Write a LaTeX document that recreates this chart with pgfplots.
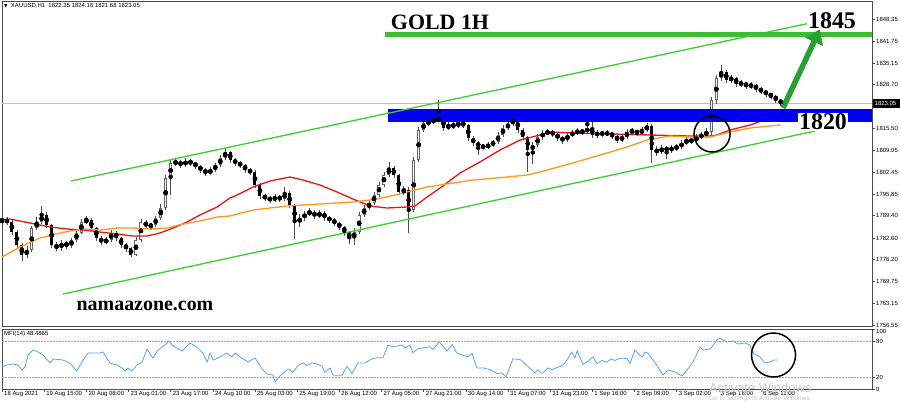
\documentclass[border=0pt]{standalone}
\usepackage{fontspec}
\setmainfont{Liberation Sans}
\newfontfamily\serifb{Liberation Serif}
\newfontfamily\dejavu{DejaVu Sans}
\usepackage{pgfplots}
\usepackage{pgfplotstable}
\pgfplotsset{compat=1.18}
\usetikzlibrary{arrows.meta}

\definecolor{chgreen}{RGB}{60,205,50}
\definecolor{lvlgreen}{RGB}{60,190,50}
\definecolor{arrgreen}{RGB}{40,160,50}
\definecolor{bandblue}{RGB}{0,0,245}
\definecolor{maorange}{RGB}{255,150,30}
\definecolor{mared}{RGB}{235,20,20}
\definecolor{mfiblue}{RGB}{90,165,240}

\pgfplotstableread{
x o h l c
0 1787.50 1789.20 1786.90 1788.05
2 1788.05 1789.00 1786.60 1787.45
4 1787.45 1788.00 1783.60 1784.45
6 1784.45 1785.00 1779.80 1780.55
8 1780.55 1781.20 1775.90 1777.55
10 1777.55 1780.20 1776.80 1779.05
12 1779.05 1786.40 1778.60 1785.65
14 1785.65 1789.00 1785.00 1787.45
16 1787.45 1792.20 1787.00 1789.55
18 1789.55 1790.60 1785.80 1786.55
20 1786.55 1787.00 1779.60 1780.55
22 1780.55 1781.60 1778.70 1779.65
24 1779.65 1782.00 1778.90 1781.15
26 1781.15 1781.90 1779.50 1780.25
28 1780.25 1782.80 1779.80 1782.05
30 1782.05 1785.00 1781.60 1784.15
32 1784.15 1788.40 1783.80 1787.45
34 1787.45 1789.40 1786.90 1788.05
36 1788.05 1788.60 1784.90 1785.65
38 1785.65 1786.00 1781.80 1782.65
40 1782.65 1783.20 1780.60 1781.45
42 1781.45 1783.00 1780.80 1782.05
44 1782.05 1785.20 1781.50 1784.15
46 1784.15 1784.80 1781.90 1782.65
48 1782.65 1783.10 1779.80 1780.55
50 1780.55 1781.20 1778.60 1779.65
52 1779.65 1780.10 1777.00 1777.55
54 1777.55 1782.90 1777.20 1782.05
56 1782.05 1788.30 1781.40 1787.45
58 1787.45 1788.00 1785.40 1786.25
60 1786.25 1787.30 1785.10 1786.55
62 1786.55 1789.40 1786.00 1788.65
64 1788.65 1793.00 1788.10 1791.65
66 1791.65 1801.60 1791.20 1800.65
68 1800.65 1806.40 1795.60 1805.15
70 1805.15 1806.50 1804.20 1805.45
72 1805.45 1806.00 1803.80 1804.55
74 1804.55 1806.60 1803.90 1805.75
76 1805.75 1806.30 1804.30 1805.15
78 1805.15 1805.60 1803.40 1804.25
80 1804.25 1804.60 1802.30 1803.05
82 1803.05 1803.60 1801.30 1802.15
84 1802.15 1803.90 1801.50 1803.05
86 1803.05 1805.30 1802.60 1804.55
88 1804.55 1807.50 1804.00 1806.65
90 1806.65 1809.70 1806.00 1808.45
92 1808.45 1808.90 1805.20 1806.05
94 1806.05 1806.80 1804.40 1805.15
96 1805.15 1805.80 1803.70 1804.55
98 1804.55 1805.00 1802.20 1803.05
100 1803.05 1803.60 1801.70 1802.45
102 1802.45 1803.00 1797.80 1798.55
104 1798.55 1799.10 1794.50 1795.25
106 1795.25 1796.00 1793.80 1794.65
108 1794.65 1795.40 1793.20 1794.05
110 1794.05 1795.80 1793.40 1794.95
112 1794.95 1795.60 1793.50 1794.35
114 1794.35 1797.90 1793.90 1796.15
116 1796.15 1796.80 1791.70 1792.55
118 1792.55 1793.00 1782.50 1787.45
120 1787.45 1789.80 1786.00 1788.65
122 1788.65 1790.90 1787.90 1789.85
124 1789.85 1791.60 1789.20 1790.45
126 1790.45 1791.00 1788.40 1789.25
128 1789.25 1791.20 1788.60 1790.15
130 1790.15 1790.80 1787.80 1788.65
132 1788.65 1789.40 1787.20 1788.05
134 1788.05 1788.60 1786.30 1787.15
136 1787.15 1787.60 1785.00 1785.95
138 1785.95 1786.40 1783.20 1784.45
140 1784.45 1784.80 1781.00 1782.65
142 1782.65 1785.60 1780.60 1784.45
144 1784.45 1790.50 1784.00 1789.55
146 1789.55 1792.60 1789.00 1791.65
148 1791.65 1794.20 1791.00 1793.15
150 1793.15 1796.60 1792.60 1795.55
152 1795.55 1799.60 1795.00 1798.55
154 1798.55 1802.60 1798.00 1801.55
156 1801.55 1805.40 1801.00 1803.65
158 1803.65 1804.40 1800.60 1801.55
160 1801.55 1802.00 1795.60 1796.45
162 1796.45 1798.40 1795.60 1797.05
164 1797.05 1798.00 1784.20 1791.05
166 1791.05 1807.00 1790.40 1806.05
168 1806.05 1816.00 1805.40 1815.05
170 1815.05 1818.20 1814.40 1817.15
172 1817.15 1818.50 1816.30 1817.45
174 1817.45 1819.00 1816.80 1818.05
176 1818.05 1824.00 1817.60 1818.65
178 1818.65 1819.20 1814.80 1815.65
180 1815.65 1817.60 1815.00 1816.55
182 1816.55 1817.40 1815.40 1816.25
184 1816.25 1818.20 1815.80 1817.15
186 1817.15 1817.80 1815.60 1816.55
188 1816.55 1817.00 1811.80 1812.65
190 1812.65 1813.20 1810.30 1811.15
192 1811.15 1811.80 1807.60 1810.25
194 1810.25 1811.00 1809.00 1809.95
196 1809.95 1811.40 1809.30 1810.55
198 1810.55 1812.20 1809.90 1811.45
200 1811.45 1814.40 1810.80 1813.55
202 1813.55 1816.60 1813.00 1815.65
204 1815.65 1817.80 1815.00 1816.85
206 1816.85 1819.60 1816.20 1818.05
208 1818.05 1818.60 1814.20 1815.05
210 1815.05 1815.60 1812.00 1812.95
212 1812.95 1813.40 1802.40 1809.05
214 1809.05 1811.60 1805.00 1810.55
216 1810.55 1813.80 1810.00 1812.95
218 1812.95 1815.00 1812.20 1814.15
220 1814.15 1815.30 1813.50 1814.45
222 1814.45 1815.00 1813.00 1813.85
224 1813.85 1814.40 1811.80 1812.65
226 1812.65 1813.40 1811.00 1812.05
228 1812.05 1814.40 1811.40 1813.55
230 1813.55 1815.00 1813.00 1814.15
232 1814.15 1815.60 1813.60 1814.75
234 1814.75 1815.50 1813.50 1814.45
236 1814.45 1819.80 1813.80 1815.65
238 1815.65 1818.00 1812.60 1813.55
240 1813.55 1815.00 1812.80 1814.15
242 1814.15 1814.90 1813.00 1813.85
244 1813.85 1815.00 1813.20 1814.15
246 1814.15 1814.60 1812.30 1813.25
248 1813.25 1813.60 1811.20 1812.05
250 1812.05 1813.80 1811.40 1812.95
252 1812.95 1815.30 1812.40 1814.45
254 1814.45 1815.80 1813.80 1814.75
256 1814.75 1815.20 1813.30 1814.15
258 1814.15 1816.00 1813.60 1815.05
260 1815.05 1817.30 1814.40 1816.25
262 1816.25 1816.80 1805.20 1809.05
264 1809.05 1810.20 1807.40 1808.45
266 1808.45 1810.60 1807.80 1809.65
268 1809.65 1810.20 1806.50 1809.05
270 1809.05 1810.50 1808.20 1809.65
272 1809.65 1810.80 1808.90 1809.95
274 1809.95 1812.00 1809.30 1811.15
276 1811.15 1812.90 1810.60 1812.05
278 1812.05 1812.80 1810.90 1811.75
280 1811.75 1813.80 1811.20 1812.95
282 1812.95 1814.40 1812.30 1813.55
284 1813.55 1815.60 1812.80 1814.45
286 1814.45 1825.00 1813.60 1824.05
288 1824.05 1831.60 1822.80 1830.65
290 1830.65 1834.50 1829.80 1832.45
292 1832.45 1833.20 1829.20 1830.05
294 1830.05 1831.60 1829.30 1830.65
296 1830.65 1831.00 1828.00 1828.85
298 1828.85 1830.00 1827.90 1829.15
300 1829.15 1829.60 1827.40 1828.25
302 1828.25 1829.40 1827.30 1828.55
304 1828.55 1828.90 1826.50 1827.35
306 1827.35 1827.90 1825.90 1826.75
308 1826.75 1827.20 1825.00 1825.85
310 1825.85 1826.30 1824.30 1825.25
312 1825.25 1825.60 1823.20 1824.05
314 1824.05 1824.40 1822.30 1823.05
}\candles

\pgfplotsset{
  cbar/.style={only marks, mark=none, forget plot,
    error bars/y dir=both, error bars/y explicit, error bars/error mark=none,
    error bars/error bar style={#1}},
}

\begin{document}
\begin{tikzpicture}[x=1bp,y=1bp]
\useasboundingbox (0,0) rectangle (900,-403);
\fill[white] (0,0) rectangle (900,-403);

% ---------------- main price panel ----------------
\begin{axis}[at={(2bp,-1bp)}, anchor=north west, scale only axis,
  width=870bp, height=325bp,
  xmin=0, xmax=350.8, ymin=1756.25, ymax=1853.75,
  xtick=\empty,
  ytick={1756.55,1763.15,1769.75,1776.20,1782.60,1789.40,1795.85,1802.45,1809.05,1815.50,1822.10,1828.70,1835.15,1841.75,1848.35},
  yticklabels={1756.55,1763.15,1769.75,1776.20,1782.60,1789.40,1795.85,1802.45,1809.05,1815.50,{},1828.70,1835.15,1841.75,1848.35},
  ytick pos=right, tick align=outside, major tick length=3bp,
  tick style={black!70, line width=0.5bp},
  yticklabel style={font=\fontsize{6}{7}\selectfont, anchor=west, inner sep=0pt, xshift=1bp},
  axis line style={black!70, line width=0.6bp},
  clip=true]

\draw[black!25, line width=0.6bp] (axis cs:0,1823.05) -- (axis cs:350.8,1823.05);

% wicks
\addplot[cbar={draw=black!70, line width=0.6bp}]
  table[x=x, y expr=(\thisrow{h}+\thisrow{l})/2, y error expr=(\thisrow{h}-\thisrow{l})/2] {\candles};
% bull bodies (hollow)
\addplot[cbar={draw=black!60, line width=3bp}]
  table[x=x, y expr=(\thisrow{o}+\thisrow{c})/2, y error expr={max(\thisrow{c}-\thisrow{o},0)/2}] {\candles};
\addplot[cbar={draw=white, line width=1.4bp}]
  table[x=x, y expr=(\thisrow{o}+\thisrow{c})/2, y error expr={max(\thisrow{c}-\thisrow{o}-0.6,0)/2}] {\candles};
% bear bodies
\addplot[cbar={draw=black, line width=3bp}]
  table[x=x, y expr=(\thisrow{o}+\thisrow{c})/2, y error expr={max(\thisrow{o}-\thisrow{c},0)/2}] {\candles};

% moving averages
\addplot[mared, line width=1.3bp, mark=none] coordinates {
(0,1788.05) (3.2,1788.35) (11.3,1787.15) (19.4,1785.95) (26.2,1785.35) (32.7,1785.05)
(39.5,1784.45) (46.4,1783.85) (52.8,1783.25) (58.5,1783.25) (63.7,1784.15) (69.0,1785.65)
(74.6,1787.45) (79.8,1789.55) (86.7,1791.95) (91.9,1794.65) (94.8,1795.55) (101.2,1797.95)
(108.1,1799.75) (116.1,1800.95) (121.4,1800.05) (128.2,1798.55) (135.1,1796.45) (141.5,1794.35)
(148.4,1792.25) (155.2,1791.65) (163.3,1791.95) (166.5,1792.25) (171.4,1794.95) (176.6,1797.65)
(184.7,1802.15) (192.7,1805.45) (200.8,1809.05) (208.9,1812.05) (216.9,1813.55) (221.0,1814.45)
(230.2,1814.15) (246.4,1813.85) (261.3,1813.55) (277.4,1813.25) (285.5,1813.25) (288.3,1813.55)
(293.5,1815.05) (301.6,1816.55) (308.5,1818.35) (314.0,1819.40)};
\addplot[maorange, line width=1.3bp, mark=none] coordinates {
(0,1776.95) (7.3,1779.95) (15.3,1782.65) (23.4,1784.15) (27.4,1784.75) (32.7,1785.35)
(39.5,1785.05) (46.4,1785.65) (52.8,1785.65) (59.7,1785.35) (66.5,1785.65) (73.0,1786.85)
(79.8,1787.75) (86.7,1788.95) (91.9,1789.25) (101.2,1791.05) (114.9,1792.25) (128.2,1792.85)
(141.5,1793.45) (148.4,1794.05) (155.2,1794.95) (163.3,1796.45) (171.4,1797.95) (176.6,1798.55)
(189.9,1800.05) (203.6,1800.95) (211.7,1801.55) (216.9,1802.45) (230.2,1805.15) (243.9,1808.15)
(252.0,1809.95) (260.1,1812.05) (269.4,1813.25) (277.4,1812.95) (285.5,1812.95) (293.5,1814.45)
(301.6,1815.65) (314.0,1816.60)};

% annotations
\fill[bandblue] (axis cs:155.6,1817.45) rectangle (axis cs:350.8,1821.35);
\draw[chgreen, line width=1.3bp] (axis cs:27.8,1799.75) -- (axis cs:327.8,1847.45);
\draw[chgreen, line width=1.3bp] (axis cs:24.6,1765.85) -- (axis cs:327.8,1814.75);
\draw[lvlgreen, line width=5bp] (axis cs:154.4,1843.85) -- (axis cs:350.8,1843.85);
\draw[arrgreen, line width=5.5bp, -{Triangle[width=19bp,length=14bp]}]
  (axis cs:314.9,1821.65) -- (axis cs:329.8,1845.3);
\draw[black, line width=1.5bp] (axis cs:286.3,1813.85) circle[radius=18bp];
\end{axis}

% ---------------- MFI panel ----------------
\begin{axis}[at={(2bp,-329bp)}, anchor=north west, scale only axis,
  width=870bp, height=60bp,
  xmin=0, xmax=350.8, ymin=0, ymax=100,
  ytick={0,20,80}, yticklabels={0,20,80},
  extra y ticks={100}, extra y tick labels={100},
  extra y tick style={yticklabel style={yshift=-2.5bp}},
  ytick pos=right,
  xtick={0,17,...,306},
  xticklabels={18 Aug 2021,19 Aug 15:00,20 Aug 08:00,23 Aug 01:00,23 Aug 17:00,24 Aug 10:00,25 Aug 03:00,25 Aug 19:00,26 Aug 12:00,27 Aug 05:00,27 Aug 21:00,30 Aug 14:00,31 Aug 07:00,31 Aug 23:00,1 Sep 16:00,2 Sep 09:00,3 Sep 02:00,3 Sep 18:00,6 Sep 11:00},
  xtick pos=bottom, tick align=outside, major tick length=3bp,
  tick style={black!70, line width=0.5bp},
  yticklabel style={font=\fontsize{6}{7}\selectfont, anchor=west, inner sep=0pt, xshift=1bp},
  xticklabel style={font=\fontsize{6}{7}\selectfont, anchor=north west, inner sep=0pt, xshift=2bp, yshift=1bp},
  axis line style={black!70, line width=0.6bp},
  clip=true]
\draw[black!35, line width=0.5bp, dash pattern=on 1.5bp off 1.5bp] (axis cs:0,80) -- (axis cs:350.8,80);
\draw[black!35, line width=0.5bp, dash pattern=on 1.5bp off 1.5bp] (axis cs:0,20) -- (axis cs:350.8,20);
\addplot[mfiblue, line width=0.8bp, mark=none] coordinates {
(0,36.7) (2.0,40) (4.4,41.7) (6.5,40) (8.1,31.7) (9.3,36.7) (10.5,56.7) (12.5,65)
(14.5,61.7) (16.5,56.7) (19.4,43.3) (20.6,50) (24.6,48.3) (27.4,43.3) (30.2,30) (32.7,48.3)
(34.7,60) (39.5,60) (40.7,61.7) (43.5,43.3) (46.4,40) (48.4,35) (49.6,30) (50.8,35)
(52.4,30) (54.4,40) (56.5,45) (58.5,66.7) (60.5,53.3) (60.9,51.7) (62.9,65) (65.7,73.3)
(67.3,80) (69.0,71.7) (72.6,63.3) (75.8,76.7) (78.6,70) (81.0,60) (82.7,45) (83.9,60)
(85.1,48.3) (87.9,53.3) (90.7,60) (92.7,53.3) (94.0,60) (96.0,53.3) (99.2,45) (102.0,51.7)
(105.2,31.7) (106.9,25) (109.3,23.3) (110.1,11.7) (112.1,21.7) (114.9,31.7)
(116.1,32.4) (117.3,27.9) (119.4,39.2) (121.4,43.5) (123.0,39.2) (125.0,43.5) (127.0,41.9)
(129.0,38) (130.2,27.9) (132.3,35.1) (133.5,22.9) (137.1,22.9) (139.1,38) (141.1,25.7)
(143.5,43.5) (146.4,43.5) (149.2,50.3) (151.2,52) (153.6,52) (155.6,73.3) (157.7,70.4)
(161.3,73.3) (162.5,68.7) (164.5,73.3) (165.7,60.3) (167.7,67.1) (172.6,70.4) (173.8,66)
(176.2,78.8) (179.4,63.2) (181.5,74.5) (183.5,59.3) (187.9,53.6) (189.5,59.3) (191.5,35.1)
(194.0,35.1) (196.8,32.4) (199.6,25.7) (201.6,26.7) (203.2,20) (206.0,50.3) (208.9,49.2)
(211.7,39.2) (214.9,26.7) (216.1,32.4) (217.7,25.7) (220.2,35.1) (221.8,32.4) (225.8,39.2)
(227.0,43.5) (229.8,61.5) (231.0,52) (231.9,63.2) (234.3,40.8) (236.3,46.4) (238.3,53.6)
(239.9,42.5) (241.9,47.6) (243.9,44.7) (245.6,50.3) (247.2,47.6) (249.2,51.4) (252.0,50.9)
(253.2,42.5) (255.2,64.9) (256.9,57.6)
(258.1,53.3) (259.3,61.7)
(260.5,60) (262.5,48.3) (264.5,36.7) (266.5,23.3) (268.5,31.7) (271.4,28.3) (274.2,21.7)
(276.2,31.7) (278.6,45) (281.5,70) (282.7,65) (285.5,66.7) (288.3,81.7) (289.5,85)
(292.3,78.3) (294.8,80) (296.8,75) (299.6,76.7) (301.6,73.3) (302.8,60) (305.6,53.3)
(307.7,43.3) (309.7,45) (311.3,48.3) (312.5,48.5)};
\draw[black, line width=1.5bp] (axis cs:311.1,56.7) circle[radius=22bp];
\end{axis}

% ---------------- texts ----------------
\node[anchor=west, inner sep=0pt, font=\fontsize{6}{7}\selectfont] at (4,-6)
  {{\dejavu\fontsize{4.5}{5}\selectfont ▼}\ \ XAUUSD,H1\ \ 1822.35 1824.16 1821.68 1823.05};
\node[anchor=west, inner sep=0pt, font=\fontsize{6}{7}\selectfont] at (4,-334) {MFI(14) 48.4865};

\node[font=\serifb\bfseries\fontsize{22}{22}\selectfont] at (440,-22) {GOLD 1H};
\node[fill=white, inner sep=1bp, font=\serifb\bfseries\fontsize{24}{24}\selectfont] at (832,-21) {1845};
\node[fill=white, inner sep=1bp, font=\serifb\bfseries\fontsize{24}{24}\selectfont] at (823,-122) {1820};
\node[font=\serifb\bfseries\fontsize{20}{20}\selectfont] at (145,-306) {namaazone.com};

% current price label
\fill[black] (872.6,-98.8) rectangle (900,-107.8);
\node[anchor=west, inner sep=0pt, text=white, font=\fontsize{6}{7}\selectfont] at (874.5,-103.3) {1823.05};

% watermark
\node[anchor=west, inner sep=0pt, text=black!22, font=\fontsize{13}{14}\selectfont] at (709,-388) {Activate Windows};
\node[anchor=west, inner sep=0pt, text=black!22, font=\fontsize{6.5}{7}\selectfont] at (709,-399) {Go to Settings to activate Windows.};
\end{tikzpicture}
\end{document}
